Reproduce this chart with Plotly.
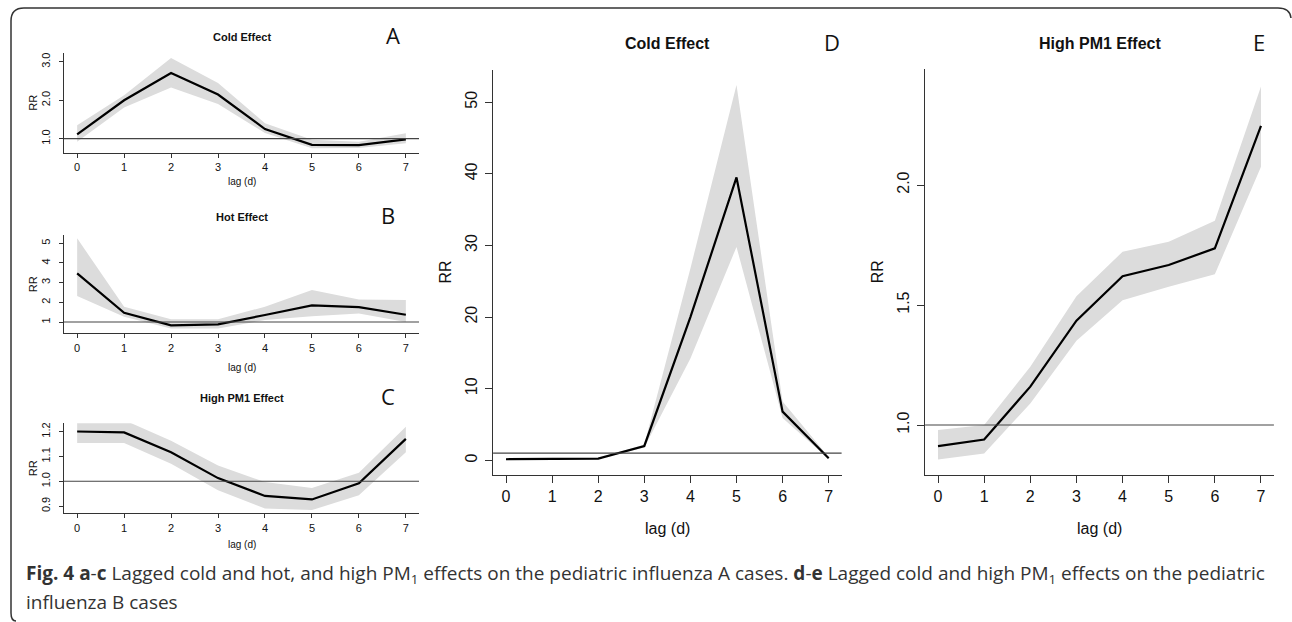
import plotly.graph_objects as go

W, H = 1292, 622

lags = [0, 1, 2, 3, 4, 5, 6, 7]

# Panel A: Cold effect (influenza A)
a_est = [1.11, 2.00, 2.71, 2.15, 1.25, 0.84, 0.83, 0.98]
a_hi = [1.35, 2.13, 3.10, 2.45, 1.40, 0.97, 0.92, 1.14]
a_lo = [0.92, 1.81, 2.33, 1.90, 1.15, 0.75, 0.76, 0.88]
a_ticks = [1.0, 2.0, 3.0]
a_ticklabels = ["1.0", "2.0", "3.0"]

# Panel B: Hot effect (influenza A)
b_est = [3.47, 1.47, 0.83, 0.88, 1.36, 1.85, 1.76, 1.37]
b_hi = [5.25, 1.78, 1.14, 1.14, 1.78, 2.63, 2.15, 2.12]
b_lo = [2.32, 1.27, 0.68, 0.68, 1.10, 1.30, 1.44, 1.00]
b_ticks = [1, 2, 3, 4, 5]
b_ticklabels = ["1", "2", "3", "4", "5"]

# Panel C: High PM1 effect (influenza A)
c_est = [1.201, 1.197, 1.117, 1.013, 0.941, 0.927, 0.992, 1.171]
c_hi = [1.248, 1.247, 1.164, 1.064, 0.997, 0.973, 1.035, 1.220]
c_lo = [1.155, 1.155, 1.071, 0.964, 0.890, 0.884, 0.944, 1.117]
c_ticks = [0.9, 1.0, 1.1, 1.2]
c_ticklabels = ["0.9", "1.0", "1.1", "1.2"]

# Panel D: Cold effect (influenza B)
d_est = [0.15, 0.15, 0.25, 2.0, 20.0, 39.5, 6.8, 0.3]
d_hi = [0.2, 0.2, 0.3, 2.2, 26.8, 52.4, 8.2, 0.45]
d_lo = [0.1, 0.1, 0.2, 1.8, 14.2, 29.8, 5.9, 0.2]
d_ticks = [0, 10, 20, 30, 40, 50]
d_ticklabels = ["0", "10", "20", "30", "40", "50"]

# Panel E: High PM1 effect (influenza B)
e_est = [0.912, 0.940, 1.160, 1.435, 1.620, 1.667, 1.736, 2.246]
e_hi = [0.979, 1.000, 1.243, 1.537, 1.722, 1.764, 1.851, 2.410]
e_lo = [0.857, 0.882, 1.090, 1.351, 1.520, 1.576, 1.628, 2.076]
e_ticks = [1.0, 1.5, 2.0]
e_ticklabels = ["1.0", "1.5", "2.0"]

titles = ["Cold Effect", "Hot Effect", "High PM1 Effect", "Cold Effect", "High PM1 Effect"]
letters = ["A", "B", "C", "D", "E"]
ref_value = 1.0


def px(x):
    return x / W


def py(y):
    return 1 - y / H


# layout geometry (pixel boxes): left, right, top, bottom, y-range
panels = [
    dict(est=a_est, hi=a_hi, lo=a_lo, ticks=a_ticks, tl=a_ticklabels,
         box=(64, 419, 53, 152.5), yr=[0.64, 3.23], small=True,
         title_y=37, title_x=242, letter_x=393, xt_y=182),
    dict(est=b_est, hi=b_hi, lo=b_lo, ticks=b_ticks, tl=b_ticklabels,
         box=(64, 419, 235, 333.3), yr=[0.43, 5.42], small=True,
         title_y=217, title_x=242, letter_x=388, xt_y=367),
    dict(est=c_est, hi=c_hi, lo=c_lo, ticks=c_ticks, tl=c_ticklabels,
         box=(64, 419, 423.3, 513.3), yr=[0.871, 1.234], small=True,
         title_y=398, title_x=242, letter_x=388, xt_y=544),
    dict(est=d_est, hi=d_hi, lo=d_lo, ticks=d_ticks, tl=d_ticklabels,
         box=(493.1, 841.6, 70, 475), yr=[-2.05, 54.5], small=False,
         title_y=44, title_x=667, letter_x=832, xt_y=528),
    dict(est=e_est, hi=e_hi, lo=e_lo, ticks=e_ticks, tl=e_ticklabels,
         box=(925.1, 1273.9, 69.3, 475), yr=[0.792, 2.482], small=False,
         title_y=44, title_x=1100, letter_x=1259, xt_y=528),
]

fig = go.Figure()
annotations = []
shapes = []
layout_axes = {}

FONT = "Liberation Sans, Arial, sans-serif"
BAND = "#dcdcdc"

for i, p in enumerate(panels, start=1):
    xa = "x" if i == 1 else f"x{i}"
    ya = "y" if i == 1 else f"y{i}"
    xkey = "xaxis" if i == 1 else f"xaxis{i}"
    ykey = "yaxis" if i == 1 else f"yaxis{i}"
    l, r, t, b = p["box"]
    small = p["small"]
    tfs = 11 if small else 16
    tlen = 4 if small else 7

    fig.add_trace(go.Scatter(x=lags, y=p["hi"], mode="lines", line=dict(width=0, color=BAND),
                             xaxis=xa, yaxis=ya, showlegend=False, hoverinfo="skip"))
    fig.add_trace(go.Scatter(x=lags, y=p["lo"], mode="lines", line=dict(width=0, color=BAND),
                             fill="tonexty", fillcolor=BAND,
                             xaxis=xa, yaxis=ya, showlegend=False, hoverinfo="skip"))
    fig.add_trace(go.Scatter(x=lags, y=p["est"], mode="lines", line=dict(width=2.2, color="#000000"),
                             xaxis=xa, yaxis=ya, showlegend=False))

    layout_axes[xkey] = dict(
        domain=[px(l), px(r)], anchor=ya, range=[-0.28, 7.28],
        tickmode="array", tickvals=lags, ticktext=[str(v) for v in lags],
        showline=True, linecolor="#333333", linewidth=1.2,
        ticks="outside", ticklen=tlen, tickcolor="#333333", tickwidth=1.2,
        showgrid=False, zeroline=False, fixedrange=True,
        tickfont=dict(family=FONT, size=tfs, color="#111111"),
    )
    layout_axes[ykey] = dict(
        domain=[py(b), py(t)], anchor=xa, range=p["yr"],
        tickmode="array", tickvals=p["ticks"], ticktext=p["tl"], tickangle=-90,
        showline=True, linecolor="#333333", linewidth=1.2,
        ticks="outside", ticklen=tlen, tickcolor="#333333", tickwidth=1.2,
        ticklabelstandoff=5 if small else 2,
        showgrid=False, zeroline=False, fixedrange=True,
        tickfont=dict(family=FONT, size=tfs, color="#111111"),
    )

    shapes.append(dict(type="line", xref=f"{xa} domain", yref=ya, x0=0, x1=1,
                       y0=ref_value, y1=ref_value, line=dict(color="#444444", width=1.1)))

    # title
    annotations.append(dict(text=f"<b>{titles[i-1]}</b>", x=px(p["title_x"]), y=py(p["title_y"]),
                            xref="paper", yref="paper", showarrow=False, xanchor="center", yanchor="middle",
                            font=dict(family=FONT, size=11 if small else 16, color="#111111")))
    # panel letter
    annotations.append(dict(text=letters[i-1], x=px(p["letter_x"]), y=py(p["title_y"] - 2),
                            xref="paper", yref="paper", showarrow=False, xanchor="center", yanchor="middle",
                            font=dict(family="Open Sans, sans-serif", size=22, color="#111111")))
    # x title
    annotations.append(dict(text="lag (d)", x=px((l + r) / 2), y=py(p["xt_y"]),
                            xref="paper", yref="paper", showarrow=False, xanchor="center", yanchor="middle",
                            font=dict(family=FONT, size=10 if small else 16, color="#111111")))
    # y title
    ry = (t + b) / 2
    rx = 33 if small else l - 48
    annotations.append(dict(text="RR", x=px(rx), y=py(ry), textangle=-90,
                            xref="paper", yref="paper", showarrow=False, xanchor="center", yanchor="middle",
                            font=dict(family=FONT, size=11 if small else 16, color="#111111")))

# caption
CAP = "Open Sans, sans-serif"
annotations.append(dict(
    text="<b>Fig. 4</b> <b>a</b>-<b>c</b> Lagged cold and hot, and high PM<sub>1</sub> effects on the pediatric influenza A cases. "
         "<b>d</b>-<b>e</b> Lagged cold and high PM<sub>1</sub> effects on the pediatric",
    x=px(24), y=py(574), xref="paper", yref="paper", showarrow=False, xanchor="left", yanchor="middle",
    font=dict(family=CAP, size=19, color="#333333")))
annotations.append(dict(
    text="influenza B cases",
    x=px(24), y=py(602), xref="paper", yref="paper", showarrow=False, xanchor="left", yanchor="middle",
    font=dict(family=CAP, size=19, color="#333333")))

# frame (open rounded bracket)
frame = (f"M {px(16)},{py(621)} Q {px(11)},{py(621)} {px(11)},{py(613)} "
         f"L {px(11)},{py(21)} Q {px(11)},{py(8)} {px(24)},{py(8)} "
         f"L {px(1278)},{py(8)} Q {px(1290)},{py(8)} {px(1291)},{py(18)}")
shapes.append(dict(type="path", xref="paper", yref="paper", path=frame,
                   line=dict(color="#333333", width=1.5)))

fig.update_layout(
    width=W, height=H, margin=dict(l=0, r=0, t=0, b=0),
    paper_bgcolor="white", plot_bgcolor="white",
    showlegend=False, annotations=annotations, shapes=shapes,
    **layout_axes,
)

fig.write_html("out.html", config={"displayModeBar": False})
